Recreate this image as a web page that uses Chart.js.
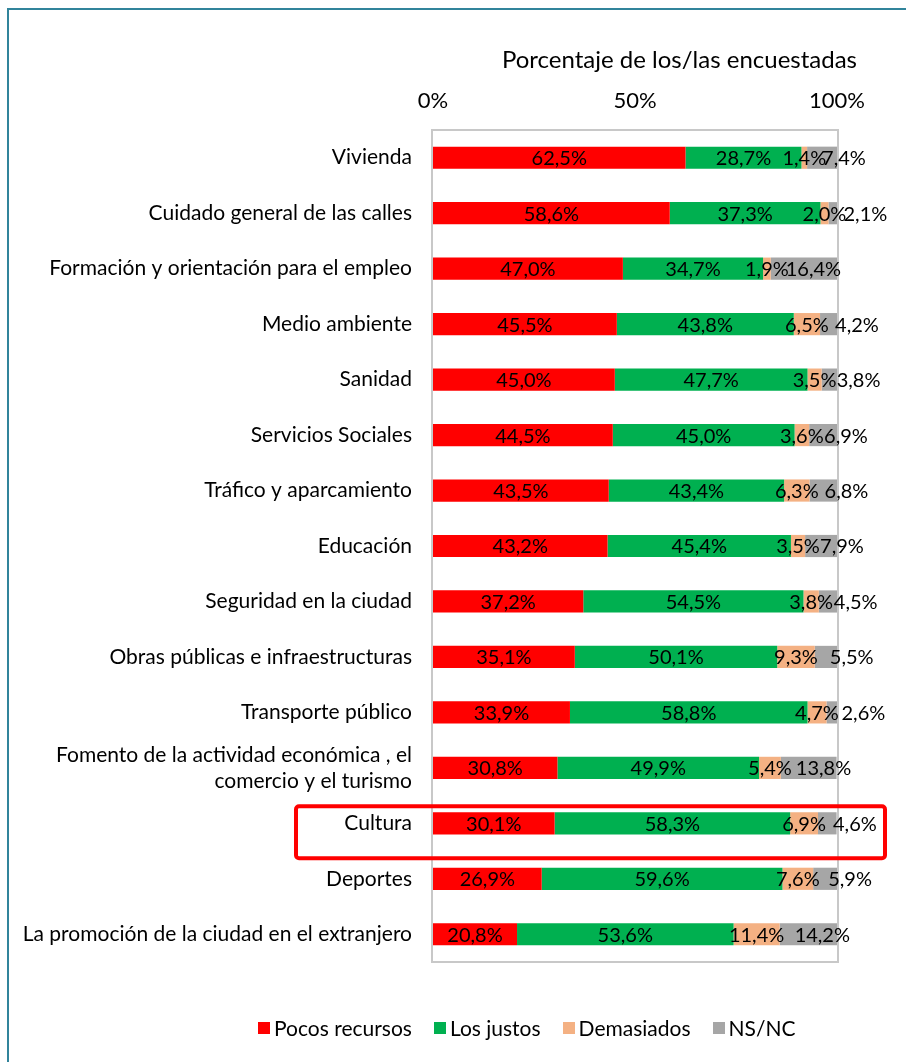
<!DOCTYPE html>
<html>
<head>
<meta charset="utf-8">
<script src="https://cdn.jsdelivr.net/npm/chart.js@4"></script>
<style>
  html, body { margin: 0; padding: 0; background: #fff; }
  body { width: 906px; height: 1062px; position: relative; overflow: hidden; font-family: Lato, sans-serif; }
  #frame { position: absolute; left: 7px; top: 8px; right: -10px; bottom: -10px;
           border-left: 2px solid #31849b; border-top: 2px solid #31849b; }
  #chart { position: absolute; left: 0; top: 0; }
  #legend { position: absolute; left: 258px; top: 1015px; display: flex; align-items: center;
            font-size: 21px; color: #000; white-space: nowrap; }
  #legend .item { display: flex; align-items: center; margin-right: 22px; }
  #legend .sw { width: 12px; height: 12px; margin-right: 4px; }
</style>
</head>
<body>
<div id="frame"></div>
<canvas id="chart" width="906" height="1062"></canvas>
<div id="legend"></div>
<script>
// categories (top to bottom)
const categories = [
  'Vivienda',
  'Cuidado general de las calles',
  'Formación y orientación para el empleo',
  'Medio ambiente',
  'Sanidad',
  'Servicios Sociales',
  'Tráfico y aparcamiento',
  'Educación',
  'Seguridad en la ciudad',
  'Obras públicas e infraestructuras',
  'Transporte público',
  ['Fomento de la actividad económica , el', 'comercio y el turismo'],
  'Cultura',
  'Deportes',
  'La promoción de la ciudad en el extranjero',
];

const seriesNames  = ['Pocos recursos', 'Los justos', 'Demasiados', 'NS/NC'];
const seriesColors = ['#ff0000', '#00b050', '#f4b183', '#a6a6a6'];

const pocos      = [62.5, 58.6, 47.0, 45.5, 45.0, 44.5, 43.5, 43.2, 37.2, 35.1, 33.9, 30.8, 30.1, 26.9, 20.8];
const justos     = [28.7, 37.3, 34.7, 43.8, 47.7, 45.0, 43.4, 45.4, 54.5, 50.1, 58.8, 49.9, 58.3, 59.6, 53.6];
const demasiados = [ 1.4,  2.0,  1.9,  6.5,  3.5,  3.6,  6.3,  3.5,  3.8,  9.3,  4.7,  5.4,  6.9,  7.6, 11.4];
const nsnc       = [ 7.4,  2.1, 16.4,  4.2,  3.8,  6.9,  6.8,  7.9,  4.5,  5.5,  2.6, 13.8,  4.6,  5.9, 14.2];

const xTicks = [0, 50, 100];
const axisTitle = 'Porcentaje de los/las encuestadas';
const highlightIndex = 12; // Cultura

const PLOT_LEFT = 433, PLOT_TOP = 130;
const pct = v => v.toFixed(1).replace('.', ',') + '%';

// ── labels on segments ─────────────────────────
const segmentLabels = {
  id: 'segmentLabels',
  afterDatasetsDraw(chart) {
    const ctx = chart.ctx;
    ctx.save();
    ctx.font = '20px Lato';
    ctx.fillStyle = '#000';
    ctx.textBaseline = 'middle';
    chart.data.datasets.forEach((ds, di) => {
      chart.getDatasetMeta(di).data.forEach((bar, i) => {
        const txt = pct(ds.data[i]);
        if (di === 3) {
          ctx.textAlign = 'left';
          ctx.fillText(txt, bar.base + 15, bar.y + 1);
        } else {
          ctx.textAlign = 'center';
          ctx.fillText(txt, (bar.x + bar.base) / 2, bar.y + 1);
        }
      });
    });
    ctx.restore();
  },
};

// ── plot frame, title, highlight box ───────────
const decorations = {
  id: 'decorations',
  beforeDatasetsDraw(chart) {
    const { ctx, chartArea: a } = chart;
    ctx.save();
    ctx.strokeStyle = '#c8c8c8';
    ctx.lineWidth = 2;
    ctx.strokeRect(a.left - 1, a.top, a.right - a.left + 2, a.bottom - a.top);
    ctx.restore();
  },
  afterDraw(chart) {
    const { ctx, chartArea: a } = chart;
    ctx.save();
    ctx.font = '24px Lato';
    ctx.fillStyle = '#000';
    ctx.textAlign = 'right';
    ctx.textBaseline = 'middle';
    ctx.fillText(axisTitle, a.right + 20, 60);

    const yc = chart.scales.y.getPixelForValue(highlightIndex);
    ctx.strokeStyle = '#ff0000';
    ctx.lineWidth = 4;
    ctx.beginPath();
    ctx.roundRect(296, yc - 17, 589, 52, 3);
    ctx.stroke();
    ctx.restore();
  },
};

const datasets = [pocos, justos, demasiados, nsnc].map((d, i) => ({
  label: seriesNames[i],
  data: d,
  backgroundColor: seriesColors[i],
  borderWidth: 0,
  categoryPercentage: 1,
  barPercentage: 0.4,
}));

new Chart(document.getElementById('chart'), {
  type: 'bar',
  data: { labels: categories, datasets },
  options: {
    indexAxis: 'y',
    responsive: false,
    animation: false,
    layout: { padding: { left: 0, top: 0, right: 69, bottom: 100 } },
    plugins: { legend: { display: false }, tooltip: { enabled: false } },
    scales: {
      x: {
        position: 'top',
        stacked: true,
        min: 0, max: 100,
        afterBuildTicks: s => { s.ticks = xTicks.map(v => ({ value: v })); },
        afterFit: s => { s.height = PLOT_TOP; },
        ticks: { color: '#000', font: { family: 'Lato', size: 22 }, padding: 8, callback: v => v + '%' },
        grid: { display: false },
        border: { display: false },
      },
      y: {
        stacked: true,
        afterFit: s => { s.width = PLOT_LEFT; },
        ticks: { color: '#000', font: { family: 'Lato', size: 21, lineHeight: 1.25 }, padding: 13, autoSkip: false },
        grid: { display: false },
        border: { display: false },
      },
    },
  },
  plugins: [decorations, segmentLabels],
});

// legend
const legend = document.getElementById('legend');
seriesNames.forEach((n, i) => {
  const it = document.createElement('div');
  it.className = 'item';
  it.innerHTML = `<span class="sw" style="background:${seriesColors[i]}"></span><span>${n}</span>`;
  legend.appendChild(it);
});
</script>
</body>
</html>
